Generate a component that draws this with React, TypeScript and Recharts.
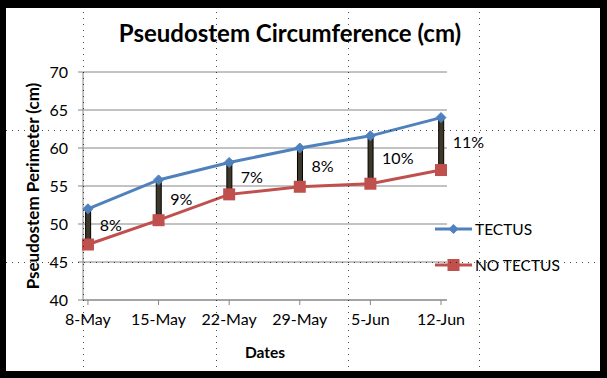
import React from 'react';
import {
  ComposedChart,
  Line,
  Bar,
  XAxis,
  YAxis,
  CartesianGrid,
  LabelList,
} from 'recharts';

const dates = ['8-May', '15-May', '22-May', '29-May', '5-Jun', '12-Jun'];
const tectus = [52, 55.8, 58.1, 60, 61.6, 64];
const noTectus = [47.3, 50.5, 53.9, 54.9, 55.3, 57.1];
const gaps = ['8%', '9%', '7%', '8%', '10%', '11%'];
const yTicks = [40, 45, 50, 55, 60, 65, 70];

const BLUE = '#4F81BD';
const RED = '#C0504D';
const FONT = 'Lato, "Open Sans", sans-serif';

const data = dates.map((d, i) => ({
  idx: i,
  date: d,
  tectus: tectus[i],
  noTectus: noTectus[i],
  range: [noTectus[i], tectus[i]],
  gap: gaps[i],
}));

const Diamond = (props: any) => {
  const { cx, cy } = props;
  if (cx == null || cy == null) return null;
  return (
    <path
      d={`M${cx},${cy - 5}L${cx + 5},${cy}L${cx},${cy + 5}L${cx - 5},${cy}Z`}
      fill={BLUE}
      stroke={BLUE}
    />
  );
};

const Square = (props: any) => {
  const { cx, cy } = props;
  if (cx == null || cy == null) return null;
  return <rect x={cx - 6} y={cy - 6} width={12} height={12} fill={RED} />;
};

// legend drawn the way Excel does: line with marker, then name
const LegendBox = () => (
  <svg
    width={170}
    height={70}
    style={{ position: 'absolute', left: 435, top: 216, fontFamily: FONT }}
  >
    <line x1={0} y1={13} x2={37} y2={13} stroke={BLUE} strokeWidth={3} />
    <path d="M18.5,8L23.5,13L18.5,18L13.5,13Z" fill={BLUE} />
    <text x={40} y={13} fontSize={15.5} dominantBaseline="central" fill="#000">
      TECTUS
    </text>
    <line x1={0} y1={49} x2={37} y2={49} stroke={RED} strokeWidth={3} />
    <rect x={12.5} y={43} width={12} height={12} fill={RED} />
    <text x={40} y={49} fontSize={15.5} dominantBaseline="central" fill="#000">
      NO TECTUS
    </text>
  </svg>
);

const GapLabel = (props: any) => {
  const { x, y, width, height, value } = props;
  return (
    <text
      x={x + width + 9}
      y={y + height / 2 - 2}
      fontSize={16}
      fill="#000"
      fontFamily={FONT}
      dominantBaseline="central"
    >
      {value}
    </text>
  );
};

const YTitle = (props: any) => {
  const { viewBox } = props;
  const cx = viewBox.x + 26;
  const cy = viewBox.y + viewBox.height / 2;
  return (
    <text
      x={cx}
      y={cy}
      transform={`rotate(-90 ${cx} ${cy})`}
      textAnchor="middle"
      dominantBaseline="central"
      fontSize={17}
      fontWeight="bold"
      fontFamily={FONT}
      fill="#000"
    >
      Pseudostem Perimeter (cm)
    </text>
  );
};

const XTitle = (props: any) => {
  const { viewBox } = props;
  return (
    <text
      x={viewBox.x + viewBox.width / 2}
      y={viewBox.y + 52}
      textAnchor="middle"
      dominantBaseline="central"
      fontSize={15.5}
      fontWeight="bold"
      fontFamily={FONT}
      fill="#000"
    >
      Dates
    </text>
  );
};

// faint dotted guide lines that run across the whole picture
const guideX = [83, 216, 348, 479];
const guideY = [130, 262];

export default function App() {
  return (
    <div
      style={{
        position: 'absolute',
        left: 0,
        top: 0,
        width: 607,
        height: 378,
        background: '#000',
        fontFamily: FONT,
      }}
    >
      <div
        style={{
          position: 'absolute',
          left: 6,
          top: 8,
          width: 594,
          height: 363,
          background: '#fff',
        }}
      >
        <div
          style={{
            position: 'absolute',
            left: 0,
            width: 594,
            top: 10,
            textAlign: 'center',
            fontSize: 24,
            fontWeight: 'bold',
            color: '#000',
            paddingRight: 26,
            boxSizing: 'border-box',
          }}
        >
          Pseudostem Circumference (cm)
        </div>
        <ComposedChart
          width={594}
          height={363}
          data={data}
          margin={{ top: 64, right: 153, bottom: 0, left: 0 }}
        >
          <CartesianGrid vertical={false} stroke="#868686" strokeWidth={1} />
          <XAxis
            dataKey="idx"
            type="number"
            domain={[-0.07, 5.085]}
            ticks={[0, 1, 2, 3, 4, 5]}
            tickFormatter={(v: number) => dates[v]}
            interval={0}
            height={71}
            stroke="#868686"
            tickSize={5}
            tickMargin={9}
            tick={{ fill: '#000', fontSize: 16, fontFamily: FONT }}
            label={<XTitle />}
          />
          <YAxis
            domain={[40, 70]}
            ticks={yTicks}
            width={77}
            stroke="#868686"
            tickSize={5}
            tickMargin={10}
            tick={{ fill: '#000', fontSize: 16, fontFamily: FONT }}
            label={<YTitle />}
          />
          <Line
            dataKey="tectus"
            name="TECTUS"
            type="linear"
            stroke={BLUE}
            strokeWidth={3}
            dot={<Diamond />}
            activeDot={false}
            isAnimationActive={false}
          />
          <Line
            dataKey="noTectus"
            name="NO TECTUS"
            type="linear"
            stroke={RED}
            strokeWidth={3}
            dot={<Square />}
            activeDot={false}
            isAnimationActive={false}
          />
          <Bar
            dataKey="range"
            barSize={5}
            fill="#3d3829"
            stroke="#000"
            strokeWidth={1}
            isAnimationActive={false}
          >
            <LabelList dataKey="gap" content={<GapLabel />} />
          </Bar>
        </ComposedChart>
      </div>
      <LegendBox />
      <svg
        width={607}
        height={378}
        style={{ position: 'absolute', left: 0, top: 0, pointerEvents: 'none' }}
      >
        {guideX.map((x) => (
          <line
            key={'gx' + x}
            x1={x + 0.5}
            y1={0}
            x2={x + 0.5}
            y2={378}
            stroke="#000"
            strokeDasharray="1 5"
            opacity={0.7}
          />
        ))}
        {guideY.map((y) => (
          <line
            key={'gy' + y}
            x1={0}
            y1={y + 0.5}
            x2={607}
            y2={y + 0.5}
            stroke="#000"
            strokeDasharray="1 5"
            opacity={0.7}
          />
        ))}
      </svg>
    </div>
  );
}
